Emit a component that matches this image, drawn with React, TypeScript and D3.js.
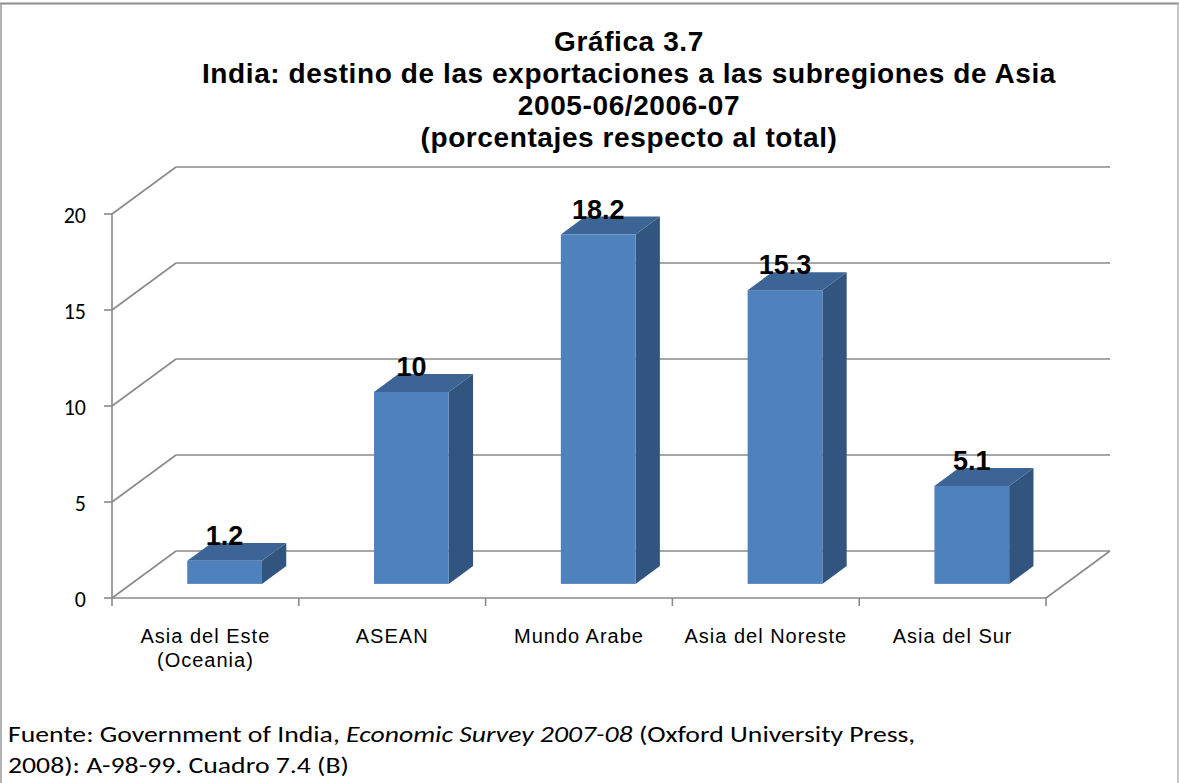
import React from "react";
import * as d3 from "d3";

const categories: string[][] = [
  ["Asia del Este", "(Oceania)"],
  ["ASEAN"],
  ["Mundo Arabe"],
  ["Asia del Noreste"],
  ["Asia del Sur"],
];
const values: number[] = [1.2, 10, 18.2, 15.3, 5.1];
const valueLabels: string[] = ["1.2", "10", "18.2", "15.3", "5.1"];
const yTicks: number[] = [0, 5, 10, 15, 20];
const titleLines: string[] = [
  "Gráfica 3.7",
  "India: destino de las exportaciones a las subregiones de Asia",
  "2005-06/2006-07",
  "(porcentajes respecto al total)",
];

const W = 1179;
const H = 783;
const DX = 64;
const DY = -47;
const F0 = 0.3;
const F1 = 0.68;

export default function App() {
  const x = d3
    .scaleBand<number>()
    .domain(values.map((_, i) => i))
    .range([112, 1046])
    .padding(0);
  const y = d3.scaleLinear().domain([0, 20]).range([598, 214]);
  const bw = x.bandwidth() * 0.4;
  const grid = "#8a8a8a";
  const catBounds = d3.range(values.length + 1).map((i) => 112 + i * x.bandwidth());

  return (
    <svg
      width={W}
      height={H}
      style={{ position: "absolute", left: 0, top: 0, background: "#fff" }}
    >
      <rect x={0} y={0} width={W} height={H} fill="#fff" />
      {/* frame */}
      <line x1={0} y1={3.5} x2={W} y2={3.5} stroke="#8c8c8c" strokeWidth={2} />
      <line x1={1} y1={3} x2={1} y2={H} stroke="#9a9a9a" strokeWidth={1.5} />
      <line x1={1178} y1={3} x2={1178} y2={H} stroke="#b5b5b5" strokeWidth={1.5} />

      {/* title */}
      <g
        fontFamily="Liberation Sans, Arial, sans-serif"
        fontWeight="bold"
        fontSize={28}
        textAnchor="middle"
        fill="#000"
      >
        {titleLines.map((t, i) => (
          <text key={i} x={629} y={51 + i * 32} letterSpacing={0.6}>
            {t}
          </text>
        ))}
      </g>

      {/* back wall gridlines and side wall diagonals */}
      <g stroke={grid} strokeWidth={1.6} fill="none">
        {yTicks.map((t) => (
          <g key={t}>
            <line x1={112} y1={y(t)} x2={112 + DX} y2={y(t) + DY} />
            <line x1={112 + DX} y1={y(t) + DY} x2={1046 + DX} y2={y(t) + DY} />
          </g>
        ))}
        {/* floor */}
        <line x1={1046} y1={y(0)} x2={1046 + DX} y2={y(0) + DY} />
        {/* axes */}
        <line x1={112} y1={y(20)} x2={112} y2={y(0)} />
        <line x1={112} y1={y(0)} x2={1046} y2={y(0)} />
        {yTicks.map((t) => (
          <line key={"yt" + t} x1={104} y1={y(t)} x2={112} y2={y(t)} />
        ))}
        {catBounds.map((b, i) => (
          <line key={"xt" + i} x1={b} y1={y(0)} x2={b} y2={y(0) + 8} />
        ))}
      </g>

      {/* y tick labels */}
      <g
        fontFamily="Carlito, Calibri, 'Open Sans', sans-serif"
        fontSize={22}
        textAnchor="end"
        fill="#000"
      >
        {yTicks.map((t) => (
          <text key={t} x={86} y={y(t) + 9}>
            {t}
          </text>
        ))}
      </g>

      {/* bars */}
      {values.map((v, i) => {
        const cx = (x(i) as number) + x.bandwidth() / 2;
        const fx0 = cx - bw / 2 + DX * F0;
        const fx1 = fx0 + bw;
        const yb = y(0) + DY * F0;
        const yt = y(v) + DY * F0;
        const ddx = DX * (F1 - F0);
        const ddy = DY * (F1 - F0);
        const top = `M${fx0},${yt}L${fx1},${yt}L${fx1 + ddx},${yt + ddy}L${fx0 + ddx},${yt + ddy}Z`;
        const side = `M${fx1},${yt}L${fx1 + ddx},${yt + ddy}L${fx1 + ddx},${yb + ddy}L${fx1},${yb}Z`;
        return (
          <g key={i}>
            <path d={side} fill="#32557f" />
            <path d={top} fill="#3c6494" />
            <rect x={fx0} y={yt} width={bw} height={yb - yt} fill="#4f81bd" />
            <text
              x={fx0 + bw / 2}
              y={y(v) + DY * F1 + 2}
              textAnchor="middle"
              fontFamily="Liberation Sans, Arial, sans-serif"
              fontWeight="bold"
              fontSize={27}
              fill="#000"
            >
              {valueLabels[i]}
            </text>
          </g>
        );
      })}

      {/* category labels */}
      <g
        fontFamily="Liberation Sans, Arial, sans-serif"
        fontSize={20}
        letterSpacing={1}
        textAnchor="middle"
        fill="#000"
      >
        {categories.map((lines, i) => (
          <text key={i} x={(x(i) as number) + x.bandwidth() / 2}>
            {lines.map((l, j) => (
              <tspan key={j} x={(x(i) as number) + x.bandwidth() / 2} y={643 + j * 24}>
                {l}
              </tspan>
            ))}
          </text>
        ))}
      </g>

      {/* source */}
      <g
        fontFamily="Carlito, Calibri, 'Open Sans', sans-serif"
        fontSize={22}
        fill="#000"
        transform="translate(8,0) scale(1.26,1)"
      >
        <text x={0} y={742}>
          Fuente: Government of India, <tspan fontStyle="italic">Economic Survey 2007-08</tspan> (Oxford University Press,
        </text>
        <text x={0} y={773}>
          2008): A-98-99. Cuadro 7.4 (B)
        </text>
      </g>
    </svg>
  );
}
